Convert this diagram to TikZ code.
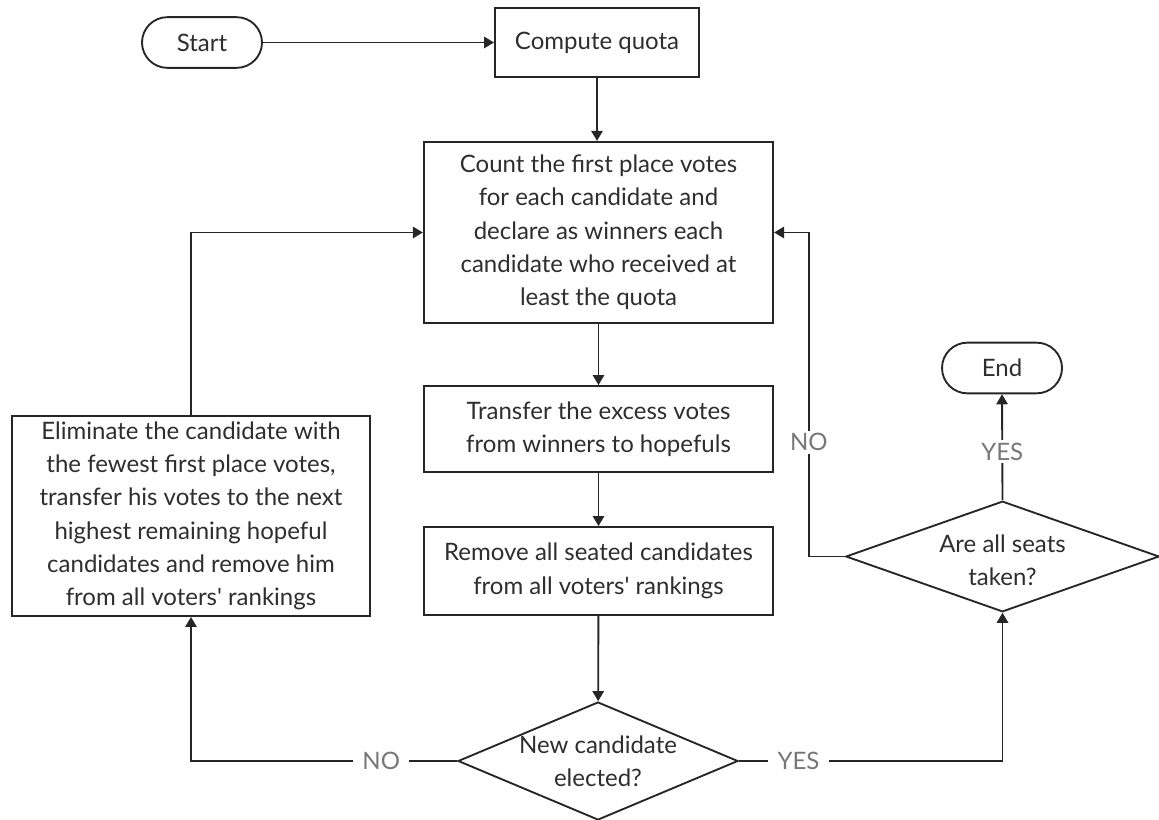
\documentclass[tikz,border=0pt]{standalone}
\usepackage{fontspec}
\setmainfont{Lato}
\usetikzlibrary{arrows.meta,shapes.geometric,calc}
\definecolor{inkgray}{HTML}{2E2E2E}
\definecolor{labelgray}{HTML}{777777}

\begin{document}
\begin{tikzpicture}[
  x=0.75pt,y=-0.75pt,
  >={Triangle[length=7.5pt,width=8.5pt]},
  line width=1.4pt,
  draw=black!85,
  font=\fontsize{18}{25}\selectfont,
  every node/.style={text=inkgray},
  stepbox/.style={draw=black!85,align=center,inner sep=0pt},
  termnode/.style={draw=black!85,rounded corners=19pt,minimum width=90pt,minimum height=38pt},
  decnode/.style={draw=black!85,diamond,inner sep=0pt},
  dectext/.style={align=center},
  branchlbl/.style={fill=white,text=labelgray,inner xsep=7pt,inner ysep=2pt}
]
\useasboundingbox (0,0) rectangle (1159,820);

\node[termnode] (start) at (202,42.5) {Start};
\node[stepbox,minimum width=153pt,minimum height=52pt] (quota) at (597,42.5) {Compute quota};
\node[stepbox,minimum width=262pt,minimum height=136pt] (count) at (598.5,232.5) {%
  Count the first place votes\\for each candidate and\\declare as winners each\\
  candidate who received at\\least the quota};
\node[stepbox,minimum width=262pt,minimum height=64.5pt] (excess) at (598.5,429) {%
  Transfer the excess votes\\from winners to hopefuls};
\node[stepbox,minimum width=262pt,minimum height=66pt] (remove) at (598.5,571) {%
  Remove all seated candidates\\from all voters\textquotesingle{} rankings};
\node[stepbox,minimum width=268.5pt,minimum height=150pt] (elim) at (191,516) {%
  Eliminate the candidate with\\the fewest first place votes,\\transfer his votes to the next\\
  highest remaining hopeful\\candidates and remove him\\from all voters\textquotesingle{} rankings};

\node[decnode,minimum width=210pt,minimum height=88.5pt] (newcand) at (598,761) {};
\node[dectext] (newcandtxt) at (newcand) {New candidate\\elected?};
\node[decnode,minimum width=235pt,minimum height=83pt] (seats) at (1002.5,556.5) {};
\node[dectext] (seatstxt) at (1002.5,560) {Are all seats\\taken?};
\node[termnode] (end) at (1002,368) {End};

\draw[->] (start) -- (quota);
\draw[->] (quota.south) -- (quota.south |- count.north);
\draw[->] (count) -- (excess);
\draw[->] (excess) -- (remove);
\draw[->] (remove) -- (newcand);

% no new winner: eliminate and recount
\coordinate (noL) at (newcand.west -| elim.south);
\draw[->] (newcand.west) -- node[branchlbl,pos=.285] {NO} (noL) -- (elim.south);
\draw[->] (elim.north) |- (count.west);

% new winner: check the seats
\coordinate (yesR) at (newcand.east -| seats.south);
\draw[->] (newcand.east) -- node[branchlbl,pos=.226] {YES} (yesR) -- (seats.south);
\draw[->] (seats.north) -- node[branchlbl,pos=.46] {YES} (end.south);

\coordinate (noR1) at ($(seats.west)+(-36,0)$);
\coordinate (noR2) at (noR1 |- count.east);
\draw[->] (seats.west) -- (noR1) -- node[branchlbl,pos=.353] {NO} (noR2) -- (count.east);

\end{tikzpicture}
\end{document}
